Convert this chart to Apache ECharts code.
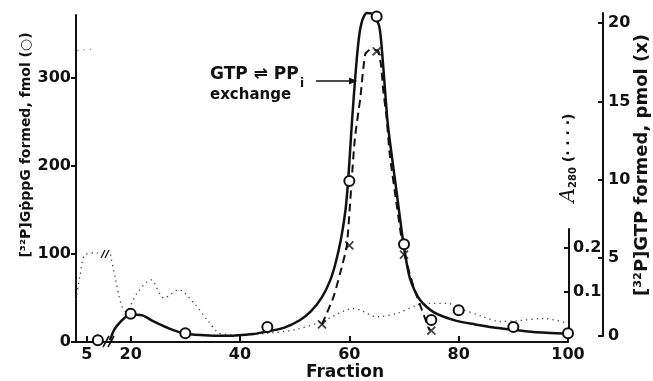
<!DOCTYPE html>
<html>
<head>
<meta charset="utf-8">
<title>Fraction profile</title>
<style>
  body { margin: 0; background: #fff; }
  #chart { width: 653px; height: 381px; }
</style>
</head>
<body>
<div id="chart"></div>
<script src="https://cdn.jsdelivr.net/npm/echarts@6/dist/echarts.min.js"></script>
<script>
// fractions before the axis break are drawn this many units to the right
var BREAK_SHIFT = 7;

var fractionTicks = [5, 20, 40, 60, 80, 100];
var fmolTicks = [0, 100, 200, 300];
var pmolTicks = [0, 5, 10, 15, 20];
var a280Ticks = [0.1, 0.2];

// open circles, [32P]GpppG formed (fmol)
var circleFraction = [7, 20, 30, 45, 60, 65, 70, 75, 80, 90, 100];
var circleFmol = [2, 32, 10, 17, 183, 370, 111, 25, 36, 17, 10];

// solid curve through the circles
var curveFraction = [16.2, 17, 18, 19.3, 21, 22.3, 24, 27.2, 29.7, 32.7, 37.6, 42.4, 45, 48, 51, 53, 55, 56.5, 57.5, 58.5, 59.3, 59.8, 60.5, 61.2, 61.8, 62.4, 63.2, 64.4, 65.5, 66.2, 67, 67.8, 68.7, 69.6, 70.2, 71.1, 72.9, 75.4, 79.6, 83, 87.6, 93.6, 100];
var curveFmol = [2, 14, 22, 29, 31, 30, 24, 15, 10, 8, 7, 9, 12, 16, 25, 35, 51, 70, 90, 118, 150, 185, 252, 310, 348, 366, 374, 372, 358, 313, 250, 210, 168, 125, 100, 72, 48, 34, 24, 20, 15.5, 11.5, 9.5];

// crosses, [32P]GTP formed (pmol)
var crossFraction = [55, 60, 65, 70, 75];
var crossPmol = [0.75, 5.8, 18.2, 5.2, 0.35];

// dashed curve through the crosses
var dashFraction = [55, 57.1, 58.3, 59.5, 60.1, 61, 62, 62.9, 63.8, 64.6, 65.3, 65.8, 66.2, 66.8, 67.4, 68.7, 69.9, 71.7, 73.5, 74.7];
var dashPmol = [0.75, 2.5, 4.0, 5.7, 8.3, 12.6, 15.2, 18.0, 18.3, 18.3, 18.2, 17.3, 15.7, 14.0, 11.6, 8.3, 5.5, 3.2, 1.45, 0.35];

// A280 trace: off-scale bit, part before the break, part after it
var a280SpillFraction = [1, 3.5, 6.5];
var a280Spill = [0.652, 0.655, 0.659];
var a280EarlyFraction = [3, 3.7, 4.6, 6.8, 8];
var a280Early = [0.081, 0.134, 0.184, 0.189, 0.184];
var a280Fraction = [16.3, 17.2, 18.2, 19.1, 21.2, 23.7, 26.1, 28.8, 31.6, 34, 36.3, 40, 45, 50, 55, 60.8, 65.1, 68.8, 72.4, 75, 78, 80, 84.5, 87.6, 91, 95.5, 100];
var a280 = [0.185, 0.13, 0.073, 0.054, 0.097, 0.127, 0.085, 0.104, 0.073, 0.035, 0.004, 0, 0.004, 0.012, 0.031, 0.061, 0.042, 0.05, 0.069, 0.073, 0.073, 0.062, 0.042, 0.031, 0.033, 0.038, 0.027];

function shift(f) {
    return f < 15 ? f + BREAK_SHIFT : f;
}
function pairs(xs, ys) {
    return xs.map(function (x, i) { return [shift(x), ys[i]]; });
}

var INK = '#111';
var FONT = "'DejaVu Sans'";
var label = { fontFamily: FONT, fontWeight: 'bold', fontSize: 16, color: INK };
var stroke = { color: INK, width: 2 };

var chart = echarts.init(document.getElementById('chart'));

chart.setOption({
    animation: false,
    backgroundColor: '#fff',
    grid: [
        { left: 76, top: 15, width: 492, height: 327, outerBoundsMode: 'none' },
        { left: 76, top: 13, width: 527, height: 323, outerBoundsMode: 'none' },
        { left: 76, top: 229, width: 493, height: 106, outerBoundsMode: 'none' }
    ],
    xAxis: [
        {
            gridIndex: 0, type: 'value', min: 10, max: 100,
            axisLine: { onZero: false, lineStyle: stroke },
            axisTick: { inside: true, length: 6, customValues: fractionTicks.map(shift), lineStyle: stroke },
            axisLabel: Object.assign({
                margin: 5,
                customValues: fractionTicks.map(shift),
                formatter: function (v) { return String(v < 15 ? v - BREAK_SHIFT : v); }
            }, label),
            splitLine: { show: false }
        },
        { gridIndex: 1, type: 'value', min: 10, max: 106.4, show: false },
        { gridIndex: 2, type: 'value', min: 10, max: 100.18, show: false }
    ],
    yAxis: [
        {
            gridIndex: 0, type: 'value', position: 'left', min: 0, max: 371.6,
            axisLine: { show: true, onZero: false, lineStyle: stroke },
            axisTick: { show: true, length: 5, customValues: fmolTicks, lineStyle: stroke },
            axisLabel: Object.assign({ margin: 5, customValues: fmolTicks }, label),
            splitLine: { show: false }
        },
        {
            gridIndex: 1, type: 'value', position: 'right', min: 0, max: 20.65,
            axisLine: { show: true, onZero: false, lineStyle: stroke },
            axisTick: { show: true, inside: true, length: 5, customValues: pmolTicks, lineStyle: stroke },
            axisLabel: Object.assign({ margin: 5, customValues: pmolTicks }, label),
            splitLine: { show: false }
        },
        {
            gridIndex: 2, type: 'value', position: 'right', min: 0, max: 0.244,
            axisLine: { show: true, onZero: false, lineStyle: stroke },
            axisTick: { show: true, inside: true, length: 5, customValues: a280Ticks, lineStyle: stroke },
            axisLabel: Object.assign({
                margin: 4, customValues: a280Ticks,
                formatter: function (v) { return v.toFixed(1); }
            }, label),
            splitLine: { show: false }
        }
    ],
    series: [
        {
            name: 'A280 off scale', type: 'line', xAxisIndex: 2, yAxisIndex: 2,
            data: pairs(a280SpillFraction, a280Spill), clip: false,
            symbol: 'none', lineStyle: { color: '#888', width: 1.2, type: [1.2, 5] }
        },
        {
            name: 'A280 early', type: 'line', xAxisIndex: 2, yAxisIndex: 2,
            data: pairs(a280EarlyFraction, a280Early), clip: false, smooth: 0.3,
            symbol: 'none', lineStyle: { color: '#444', width: 1.3, type: [1.3, 4] }
        },
        {
            name: 'A280', type: 'line', xAxisIndex: 2, yAxisIndex: 2,
            data: pairs(a280Fraction, a280), clip: false, smooth: 0.3,
            symbol: 'none', lineStyle: { color: '#444', width: 1.3, type: [1.3, 4] }
        },
        {
            name: 'GpppG fit', type: 'line', xAxisIndex: 0, yAxisIndex: 0,
            data: pairs(curveFraction, curveFmol), smooth: 0.25, clip: false,
            symbol: 'none', lineStyle: { color: INK, width: 2.5 }
        },
        {
            name: 'GTP fit', type: 'line', xAxisIndex: 1, yAxisIndex: 1,
            data: pairs(dashFraction, dashPmol), smooth: 0.2,
            symbol: 'none', lineStyle: { color: INK, width: 2, type: [8, 5] }
        },
        {
            name: 'GTP (x)', type: 'scatter', xAxisIndex: 1, yAxisIndex: 1, z: 4,
            data: pairs(crossFraction, crossPmol),
            symbol: 'path://M0,0L10,10M10,0L0,10', symbolSize: 8,
            itemStyle: { color: 'none', borderColor: INK, borderWidth: 1.8 }
        },
        {
            name: 'GpppG (o)', type: 'scatter', xAxisIndex: 0, yAxisIndex: 0, z: 5,
            data: pairs(circleFraction, circleFmol),
            symbol: 'circle', symbolSize: 10,
            itemStyle: { color: '#fff', borderColor: INK, borderWidth: 2, opacity: 1 }
        }
    ],
    graphic: [
        {
            type: 'text', x: 26, y: 145, rotation: Math.PI / 2,
            style: { text: '[³²P]GṗppG formed, fmol (○)', font: 'bold 14px ' + FONT, fill: INK, align: 'center', verticalAlign: 'middle' }
        },
        {
            type: 'text', x: 642, y: 165, rotation: Math.PI / 2,
            style: { text: '[³²P]GTP formed, pmol (x)', font: 'bold 18px ' + FONT, fill: INK, align: 'center', verticalAlign: 'middle' }
        },
        {
            type: 'text', x: 569, y: 158, rotation: Math.PI / 2,
            style: {
                text: '{a|A}{s|280} (· · · ·)', font: 'bold 14px ' + FONT, fill: INK, align: 'center', verticalAlign: 'middle',
                rich: {
                    a: { fontFamily: "'DejaVu Serif'", fontStyle: 'italic', fontSize: 20, fill: INK },
                    s: { fontFamily: FONT, fontWeight: 'bold', fontSize: 10, fill: INK, padding: [8, 0, 0, 0] }
                }
            }
        },
        {
            type: 'text', x: 345, y: 373,
            style: { text: 'Fraction', font: 'bold 17px ' + FONT, fill: INK, align: 'center', verticalAlign: 'middle' }
        },
        {
            type: 'text', x: 210, y: 75,
            style: { text: 'GTP ⇌ PP', font: 'bold 17px ' + FONT, fill: INK, verticalAlign: 'middle' }
        },
        {
            type: 'text', x: 300, y: 84,
            style: { text: 'i', font: 'bold 12px ' + FONT, fill: INK, verticalAlign: 'middle' }
        },
        {
            type: 'text', x: 210, y: 95,
            style: { text: 'exchange', font: 'bold 15px ' + FONT, fill: INK, verticalAlign: 'middle' }
        },
        { type: 'line', shape: { x1: 316, y1: 81, x2: 351, y2: 81 }, style: { stroke: INK, lineWidth: 1.5 } },
        { type: 'polygon', shape: { points: [[349, 77.5], [357, 81], [349, 84.5]] }, style: { fill: INK } },
        // axis break marks
        { type: 'line', shape: { x1: 103, y1: 347, x2: 109, y2: 336 }, style: { stroke: INK, lineWidth: 1.6 } },
        { type: 'line', shape: { x1: 108, y1: 347, x2: 114, y2: 336 }, style: { stroke: INK, lineWidth: 1.6 } },
        { type: 'line', shape: { x1: 101, y1: 258, x2: 105, y2: 250 }, style: { stroke: INK, lineWidth: 1.3 } },
        { type: 'line', shape: { x1: 105, y1: 258, x2: 109, y2: 250 }, style: { stroke: INK, lineWidth: 1.3 } }
    ]
});

window.addEventListener('resize', function () {
    chart.resize();
});
</script>
</body>
</html>
